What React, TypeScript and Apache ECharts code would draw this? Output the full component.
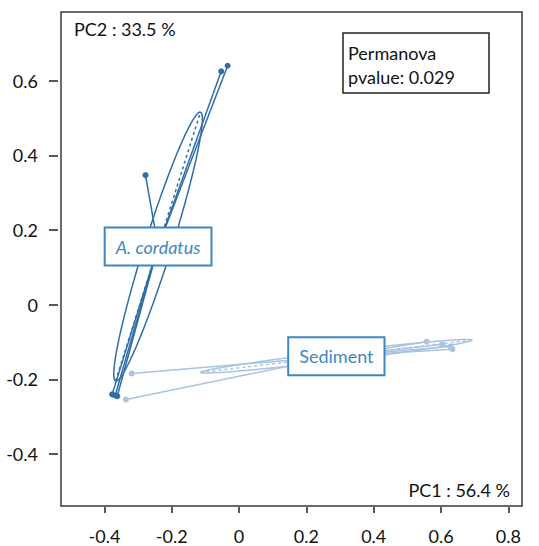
import React, { useEffect, useRef } from "react";
import * as echarts from "echarts";

// ---- data ----
const groupNames = ["A. cordatus", "Sediment"];

const cordatusX = [-0.034, -0.053, -0.278, -0.377, -0.368, -0.362];
const cordatusY = [0.64, 0.625, 0.347, -0.24, -0.243, -0.245];

const sedimentX = [0.557, 0.604, 0.634, 0.628, -0.336, -0.319];
const sedimentY = [-0.099, -0.106, -0.119, -0.112, -0.254, -0.184];

const centroidX = [-0.2406, 0.289];
const centroidY = [0.1558, -0.138];

// ellipse semi-axes (data units) for each group
const ellipseMajorX = [0.126, 0.4035];
const ellipseMajorY = [0.36, 0.0433];
const ellipseMinorX = [0.038, 0.0016];
const ellipseMinorY = [-0.011, -0.012];

const xTicks = [-0.4, -0.2, 0, 0.2, 0.4, 0.6, 0.8];
const yTicks = [-0.4, -0.2, 0, 0.2, 0.4, 0.6];
const xLimits = [-0.529, 0.8405];
const yLimits = [-0.539, 0.784];

const xLabel = "PC1 : 56.4 %";
const yLabel = "PC2 : 33.5 %";
const testLines = ["Permanova", "pvalue: 0.029"];

const DARK = "#2f6ea8";
const LIGHT = "#a9c3e0";
const BOX = "#3d87c4";
const FONT = "Lato, 'Open Sans', sans-serif";

export default function App() {
  const ref = useRef<HTMLDivElement>(null);

  useEffect(() => {
    if (!ref.current) return;
    const chart = echarts.init(ref.current, null, { renderer: "svg" });

    const groupX = [cordatusX, sedimentX];
    const groupY = [cordatusY, sedimentY];
    const colors = [DARK, LIGHT];

    const series: any[] = [];

    // ellipses with their axes
    groupNames.forEach((name, g) => {
      series.push({
        type: "custom",
        name: name + " ellipse",
        coordinateSystem: "cartesian2d",
        silent: true,
        z: 2,
        encode: { x: 0, y: 1 },
        data: [[centroidX[g], centroidY[g], ellipseMajorX[g], ellipseMajorY[g], ellipseMinorX[g], ellipseMinorY[g]]],
        renderItem: (params: any, api: any) => {
          const cx = api.value(0), cy = api.value(1);
          const ux = api.value(2), uy = api.value(3);
          const vx = api.value(4), vy = api.value(5);
          const pts: number[][] = [];
          const n = 120;
          for (let i = 0; i <= n; i++) {
            const t = (i / n) * Math.PI * 2;
            pts.push(api.coord([cx + Math.cos(t) * ux + Math.sin(t) * vx, cy + Math.cos(t) * uy + Math.sin(t) * vy]));
          }
          const a1 = api.coord([cx - ux, cy - uy]);
          const a2 = api.coord([cx + ux, cy + uy]);
          const b1 = api.coord([cx - vx, cy - vy]);
          const b2 = api.coord([cx + vx, cy + vy]);
          const c = colors[g];
          return {
            type: "group",
            children: [
              { type: "polyline", shape: { points: pts }, style: { stroke: c, fill: "none", lineWidth: 1.5 } },
              { type: "line", shape: { x1: a1[0], y1: a1[1], x2: a2[0], y2: a2[1] }, style: { stroke: c, lineWidth: 1.5, lineDash: [3, 3] } },
              { type: "line", shape: { x1: b1[0], y1: b1[1], x2: b2[0], y2: b2[1] }, style: { stroke: c, lineWidth: 1.5, lineDash: [3, 3] } },
            ],
          };
        },
      });
    });

    // star lines
    groupNames.forEach((name, g) => {
      series.push({
        type: "lines",
        name: name + " star",
        coordinateSystem: "cartesian2d",
        silent: true,
        z: 3,
        lineStyle: { color: colors[g], width: 1.5, opacity: 1 },
        data: groupX[g].map((x, i) => ({ coords: [[x, groupY[g][i]], [centroidX[g], centroidY[g]]] })),
      });
    });

    // points
    groupNames.forEach((name, g) => {
      series.push({
        type: "scatter",
        name,
        z: 4,
        symbol: "circle",
        symbolSize: 6,
        itemStyle: { color: colors[g], opacity: 1 },
        data: groupX[g].map((x, i) => [x, groupY[g][i]]),
      });
    });

    // labels at centroids
    series.push({
      type: "scatter",
      name: "labels",
      z: 10,
      symbolSize: 0,
      silent: true,
      itemStyle: { opacity: 1, color: BOX },
      data: groupNames.map((n, g) => ({ value: [centroidX[g], centroidY[g]], name: n })),
      label: {
        show: true,
        position: "inside",
        opacity: 1,
        formatter: (p: any) => (p.dataIndex === 0 ? `{i|${p.name}}` : `{n|${p.name}}`),
        backgroundColor: "#ffffff",
        borderColor: BOX,
        borderWidth: 2,
        padding: [8, 10, 8, 10],
        rich: {
          i: { fontFamily: FONT, fontSize: 18, fontStyle: "italic", color: BOX, lineHeight: 20 },
          n: { fontFamily: FONT, fontSize: 18, color: BOX, lineHeight: 20 },
        },
      },
    });

    const option: any = {
      animation: false,
      backgroundColor: "#ffffff",
      grid: {
        left: 61,
        right: 17,
        top: 12,
        bottom: 40,
        show: true,
        borderColor: "#3a3a3a",
        borderWidth: 1.5,
        backgroundColor: "transparent",
      },
      xAxis: {
        type: "value",
        min: xLimits[0],
        max: xLimits[1],
        offset: 1,
        axisLine: { show: false, onZero: false },
        splitLine: { show: false },
        axisTick: { show: true, length: 6, lineStyle: { color: "#222", width: 1.5 }, customValues: xTicks },
        axisLabel: { fontFamily: FONT, fontSize: 18, color: "#111", margin: 20, customValues: xTicks },
      },
      yAxis: {
        type: "value",
        min: yLimits[0],
        max: yLimits[1],
        offset: 3,
        axisLine: { show: false, onZero: false },
        splitLine: { show: false },
        axisTick: { show: true, length: 9, lineStyle: { color: "#222", width: 1.5 }, customValues: yTicks },
        axisLabel: { fontFamily: FONT, fontSize: 18, color: "#111", margin: 20, customValues: yTicks },
      },
      graphic: [
        {
          type: "text",
          left: 74,
          top: 20,
          style: { text: yLabel, fontFamily: FONT, fontSize: 18, fill: "#111" },
          z: 20,
        },
        {
          type: "text",
          x: 510,
          y: 490,
          style: { text: xLabel, fontFamily: FONT, fontSize: 18, fill: "#111", align: "right", verticalAlign: "middle" },
          z: 20,
        },
        {
          type: "rect",
          shape: { x: 343, y: 33, width: 146, height: 60 },
          style: { fill: "#ffffff", stroke: "#222", lineWidth: 1.5 },
          z: 20,
        },
        {
          type: "text",
          x: 348,
          y: 52.5,
          style: { text: testLines[0], fontFamily: FONT, fontSize: 18, fill: "#111", verticalAlign: "middle" },
          z: 21,
        },
        {
          type: "text",
          x: 348,
          y: 77,
          style: { text: testLines[1], fontFamily: FONT, fontSize: 18, fill: "#111", verticalAlign: "middle" },
          z: 21,
        },
      ],
      series,
    };

    chart.setOption(option);
    return () => chart.dispose();
  }, []);

  return <div ref={ref} style={{ position: "fixed", left: 0, top: 0, width: 539, height: 546 }} />;
}
